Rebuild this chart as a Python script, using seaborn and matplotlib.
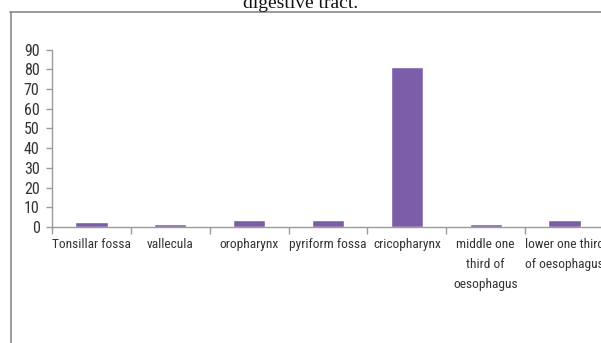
import matplotlib
matplotlib.use("Agg")
import matplotlib.pyplot as plt
from matplotlib import font_manager
from matplotlib.lines import Line2D
import seaborn as sns
import pandas as pd

sites = ["Tonsillar fossa", "vallecula", "oropharynx", "pyriform fossa",
         "cricopharynx", "middle one\nthird of\noesophagus",
         "lower one third\nof oesophagus"]
percent = [2.5, 1.3, 3.8, 3.8, 81, 1.3, 3.8]
y_ticks = [0, 10, 20, 30, 40, 50, 60, 70, 80, 90]

df = pd.DataFrame({"site": sites, "percent": percent})

sns.set_theme(style="white")

# prefer a narrow sans face for the axis labels
entries = font_manager.fontManager.ttflist
names = {f.name for f in entries}
label_font, label_stretch, label_size = "Liberation Sans", "normal", 9
for cand in ["Liberation Sans Narrow", "Roboto Condensed", "Open Sans Condensed",
             "Noto Sans Condensed", "DejaVu Sans Condensed"]:
    if cand in names:
        label_font, label_size = cand, 9.6
        break
else:
    if any(f.name == "DejaVu Sans" and "condensed" in str(f.stretch) for f in entries):
        label_font, label_stretch, label_size = "DejaVu Sans", "condensed", 9.5
plt.rcParams["font.family"] = [label_font, "DejaVu Sans"]
plt.rcParams["font.stretch"] = label_stretch

fig = plt.figure(figsize=(6.01, 3.43), dpi=100)
fig.patch.set_facecolor("white")

# frame of the figure panel (runs off the right and bottom edges)
fig.add_artist(Line2D([10 / 601, 1.0], [1 - 12 / 343, 1 - 12 / 343],
                      transform=fig.transFigure, color="#8a8a8a", lw=1.2))
fig.add_artist(Line2D([11 / 601, 11 / 601], [0, 1 - 12 / 343],
                      transform=fig.transFigure, color="#8a8a8a", lw=1.2))

# caption line above the panel, partly cut off at the top
fig.text(0.5, 1 - 8 / 343, "digestive tract.", ha="center", va="baseline",
         fontsize=14, family=["Liberation Serif", "DejaVu Serif"], color="#111111")

left, right = 52 / 601, 604 / 601
bottom, top = 1 - 227 / 343, 1 - 49.5 / 343
ax = fig.add_axes([left, bottom, right - left, top - bottom])

sns.barplot(data=df, x="site", y="percent", color="#7b5ea7", saturation=1,
            width=0.41, ax=ax)

ax.set_ylim(0, 90)
ax.set_xlim(-0.5, len(sites) - 0.5)
ax.set_yticks(y_ticks)
ax.set_xlabel("")
ax.set_ylabel("")
ax.set_facecolor("white")

for s in ["top", "right"]:
    ax.spines[s].set_visible(False)
for s in ["left", "bottom"]:
    ax.spines[s].set_color("#9a9a9a")
    ax.spines[s].set_linewidth(1.0)

ax.set_xticks(range(len(sites)))
ax.set_xticklabels(sites, linespacing=1.7)
ax.set_xticks([i - 0.5 for i in range(len(sites) + 1)], minor=True)
ax.tick_params(axis="x", which="major", length=0, pad=8, labelsize=label_size,
               labelcolor="#333333")
ax.tick_params(axis="x", which="minor", length=5, width=1.0, color="#9a9a9a",
               direction="out", bottom=True)
ax.tick_params(axis="y", which="major", length=4, width=1.0, color="#9a9a9a",
               direction="out", left=True, pad=5, labelsize=label_size + 1.9,
               labelcolor="#333333")

fig.savefig("out.png", dpi=100, facecolor="white")
